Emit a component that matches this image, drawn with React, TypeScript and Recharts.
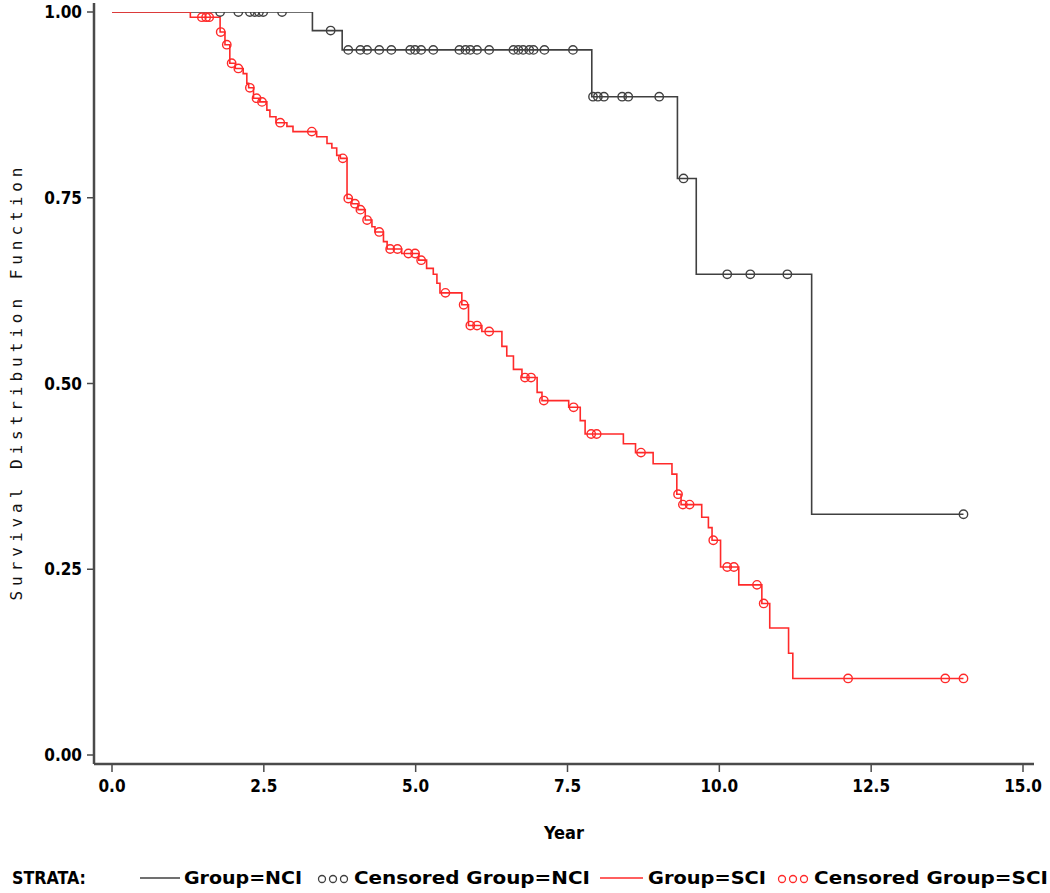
import React from "react";
import { ComposedChart, Line, Scatter, XAxis, YAxis } from "recharts";

// NCI group: Kaplan-Meier step points
const nciStepTimes = [0, 3.3, 3.79, 7.9, 9.31, 9.62, 11.52, 14.02];
const nciStepSurv = [1.0, 0.975, 0.949, 0.886, 0.776, 0.647, 0.324, 0.324];
// NCI censored observations
const nciCensorTimes = [1.78, 2.08, 2.27, 2.35, 2.42, 2.49, 2.8, 3.6, 3.89, 4.09, 4.2, 4.4, 4.6, 4.91, 4.99, 5.09, 5.29, 5.72, 5.82, 5.9, 6.01, 6.21, 6.61, 6.69, 6.77, 6.87, 6.94, 7.12, 7.59, 7.92, 8.0, 8.1, 8.4, 8.5, 9.01, 9.41, 10.13, 10.51, 11.12, 14.02];
const nciCensorSurv = [1, 1, 1, 1, 1, 1, 1, 0.975, 0.949, 0.949, 0.949, 0.949, 0.949, 0.949, 0.949, 0.949, 0.949, 0.949, 0.949, 0.949, 0.949, 0.949, 0.949, 0.949, 0.949, 0.949, 0.949, 0.949, 0.949, 0.886, 0.886, 0.886, 0.886, 0.886, 0.886, 0.776, 0.647, 0.647, 0.647, 0.324];

// SCI group: Kaplan-Meier step points
const sciStepTimes = [0, 1.29, 1.78, 1.86, 1.94, 2.03, 2.16, 2.22, 2.25, 2.33, 2.43, 2.55, 2.6, 2.7, 2.88, 2.98, 3.37, 3.54, 3.62, 3.7, 3.76, 3.87, 3.95, 4.05, 4.17, 4.28, 4.33, 4.47, 4.53, 4.77, 5.05, 5.18, 5.29, 5.35, 5.4, 5.76, 5.87, 6.09, 6.42, 6.5, 6.61, 6.75, 7.0, 7.08, 7.52, 7.71, 7.79, 8.42, 8.62, 8.91, 9.22, 9.3, 9.37, 9.71, 9.82, 9.88, 10.02, 10.32, 10.7, 10.83, 11.14, 11.21, 14.02];
const sciStepSurv = [1, 0.993, 0.973, 0.956, 0.931, 0.924, 0.917, 0.904, 0.898, 0.884, 0.879, 0.868, 0.859, 0.851, 0.846, 0.839, 0.832, 0.823, 0.817, 0.807, 0.803, 0.749, 0.742, 0.734, 0.72, 0.711, 0.704, 0.691, 0.681, 0.675, 0.666, 0.655, 0.647, 0.635, 0.622, 0.606, 0.578, 0.57, 0.55, 0.537, 0.519, 0.508, 0.488, 0.477, 0.468, 0.45, 0.432, 0.419, 0.407, 0.392, 0.378, 0.351, 0.337, 0.32, 0.306, 0.289, 0.253, 0.229, 0.204, 0.171, 0.137, 0.103, 0.103];
// SCI censored observations
const sciCensorTimes = [1.48, 1.55, 1.6, 1.79, 1.89, 1.97, 2.08, 2.27, 2.38, 2.47, 2.77, 3.29, 3.8, 3.89, 4.0, 4.09, 4.2, 4.4, 4.58, 4.7, 4.88, 4.99, 5.09, 5.49, 5.79, 5.9, 6.01, 6.21, 6.8, 6.9, 7.11, 7.6, 7.89, 7.98, 8.71, 9.32, 9.4, 9.51, 9.9, 10.13, 10.24, 10.62, 10.73, 12.12, 13.72, 14.02];
const sciCensorSurv = [0.993, 0.993, 0.993, 0.973, 0.956, 0.931, 0.924, 0.898, 0.884, 0.879, 0.851, 0.839, 0.803, 0.749, 0.742, 0.734, 0.72, 0.704, 0.681, 0.681, 0.675, 0.675, 0.666, 0.622, 0.606, 0.578, 0.578, 0.57, 0.508, 0.508, 0.477, 0.468, 0.432, 0.432, 0.407, 0.351, 0.337, 0.337, 0.289, 0.253, 0.253, 0.229, 0.204, 0.103, 0.103, 0.103];

const xTicks = [0, 2.5, 5, 7.5, 10, 12.5, 15];
const yTicks = [0, 0.25, 0.5, 0.75, 1];

const zip = (ts: number[], ss: number[]) => ts.map((t, i) => ({ t, s: ss[i] }));
const nciSteps = zip(nciStepTimes, nciStepSurv);
const nciCens = zip(nciCensorTimes, nciCensorSurv);
const sciSteps = zip(sciStepTimes, sciStepSurv);
const sciCens = zip(sciCensorTimes, sciCensorSurv);

const BLACK = "#404040";
const RED = "#ff2a2a";
const FRAME = "#4a4a4a";
const TICK_FONT = "'Liberation Sans Narrow', 'DejaVu Sans Condensed', 'Liberation Sans', sans-serif";

const circleShape = (color: string) => (props: any) => (
  <circle cx={props.cx} cy={props.cy} r={4.2} fill="none" stroke={color} strokeWidth={1.4} />
);

const YLabel = () => (
  <text
    x={16}
    y={384}
    transform="rotate(-90 16 384)"
    textAnchor="middle"
    dominantBaseline="central"
    fontFamily="'DejaVu Sans Mono', monospace"
    fontSize={16}
    fill="#111"
    textLength={433}
    lengthAdjust="spacing"
  >
    Survival Distribution Function
  </text>
);

const Legend = () => {
  const fs = 18;
  const textProps = {
    fontFamily: TICK_FONT,
    fontSize: fs,
    fontWeight: "bold" as const,
    fill: "#000",
    y: 24,
    lengthAdjust: "spacingAndGlyphs" as const,
  };
  return (
    <svg width={1050} height={33} style={{ position: "absolute", left: 0, top: 860 }}>
      <text {...textProps} x={12} textLength={74}>STRATA:</text>
      <line x1={140} x2={180} y1={18} y2={18} stroke={BLACK} strokeWidth={1.6} />
      <text {...textProps} x={184} textLength={118}>Group=NCI</text>
      {[322, 333, 344].map((cx) => (
        <circle key={cx} cx={cx} cy={19} r={3.5} fill="none" stroke={BLACK} strokeWidth={1.3} />
      ))}
      <text {...textProps} x={354} textLength={236}>Censored Group=NCI</text>
      <line x1={600} x2={643} y1={18} y2={18} stroke={RED} strokeWidth={1.6} />
      <text {...textProps} x={648} textLength={118}>Group=SCI</text>
      {[782, 793, 804].map((cx) => (
        <circle key={cx} cx={cx} cy={19} r={3.5} fill="none" stroke={RED} strokeWidth={1.3} />
      ))}
      <text {...textProps} x={814} textLength={234}>Censored Group=SCI</text>
    </svg>
  );
};

export default function App() {
  const tickStyle = { fontFamily: TICK_FONT, fontSize: 17, fontWeight: "bold", fill: "#000" };
  return (
    <div style={{ position: "absolute", left: 0, top: 0, width: 1050, height: 893, background: "#fff" }}>
      <ComposedChart width={1050} height={893} margin={{ top: 3, right: 16, left: 0, bottom: 49 }}>
        <XAxis
          dataKey="t"
          type="number"
          domain={[0, 15]}
          ticks={xTicks}
          tickFormatter={(v: number) => v.toFixed(1)}
          padding={{ left: 18, right: 11 }}
          height={80}
          tickSize={8}
          tickMargin={8}
          tick={tickStyle}
          axisLine={{ stroke: FRAME, strokeWidth: 2.5 }}
          tickLine={{ stroke: FRAME, strokeWidth: 1.5 }}
          allowDataOverflow
          label={{
            value: "Year",
            position: "insideBottom",
            offset: 5,
            style: { fontFamily: TICK_FONT, fontSize: 18, fontWeight: "bold", fill: "#000" },
          }}
        />
        <XAxis
          xAxisId="top"
          orientation="top"
          type="number"
          domain={[0, 15]}
          height={0}
          tick={false}
          tickLine={false}
          axisLine={{ stroke: FRAME, strokeWidth: 2.5 }}
        />
        <YAxis
          dataKey="s"
          type="number"
          domain={[0, 1]}
          ticks={yTicks}
          tickFormatter={(v: number) => v.toFixed(2)}
          padding={{ top: 9, bottom: 9 }}
          width={94}
          tickSize={7}
          tickMargin={5}
          tick={tickStyle}
          axisLine={{ stroke: FRAME, strokeWidth: 2.5 }}
          tickLine={{ stroke: FRAME, strokeWidth: 1.5 }}
          allowDataOverflow
          label={<YLabel />}
        />
        <YAxis
          yAxisId="right"
          orientation="right"
          type="number"
          domain={[0, 1]}
          width={0}
          tick={false}
          tickLine={false}
          axisLine={{ stroke: FRAME, strokeWidth: 2.5 }}
        />
        <Line
          data={nciSteps}
          dataKey="s"
          type="stepAfter"
          stroke={BLACK}
          strokeWidth={1.6}
          dot={false}
          activeDot={false}
          isAnimationActive={false}
        />
        <Scatter data={nciCens} dataKey="s" shape={circleShape(BLACK)} isAnimationActive={false} />
        <Line
          data={sciSteps}
          dataKey="s"
          type="stepAfter"
          stroke={RED}
          strokeWidth={1.6}
          dot={false}
          activeDot={false}
          isAnimationActive={false}
        />
        <Scatter data={sciCens} dataKey="s" shape={circleShape(RED)} isAnimationActive={false} />
      </ComposedChart>
      <Legend />
    </div>
  );
}
